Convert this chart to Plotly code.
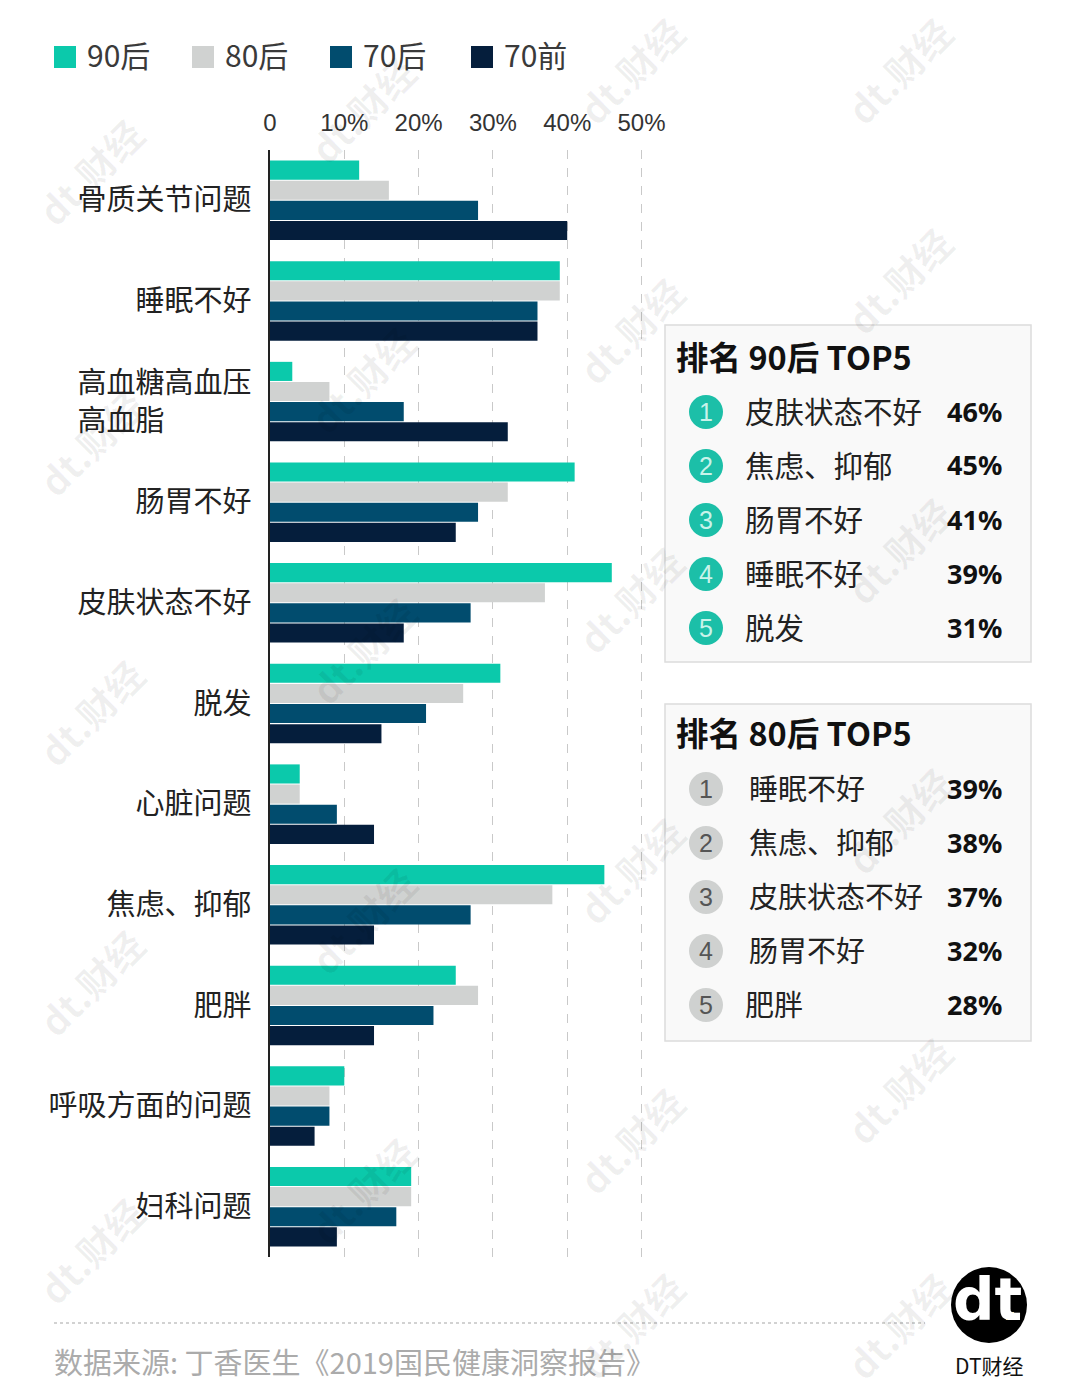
import plotly.graph_objects as go

categories = ["骨质关节问题", "睡眠不好", "高血糖高血压<br>高血脂　　　", "肠胃不好", "皮肤状态不好", "脱发",
              "心脏问题", "焦虑、抑郁", "肥胖", "呼吸方面的问题", "妇科问题"]
v90s = [12, 39, 3, 41, 46, 31, 4, 45, 25, 10, 19]
v80s = [16, 39, 8, 32, 37, 26, 4, 38, 28, 8, 19]
v70s = [28, 36, 18, 28, 27, 21, 9, 27, 22, 8, 17]
v70b = [40, 36, 32, 25, 18, 15, 14, 14, 14, 6, 9]
series_names = ["90后", "80后", "70后", "70前"]
series_colors = ["#0bc9ab", "#d0d2d1", "#014c6e", "#051e3c"]
tick_vals = [0, 10, 20, 30, 40, 50]
tick_text = ["0", "10%", "20%", "30%", "40%", "50%"]

rank90_names = ["皮肤状态不好", "焦虑、抑郁", "肠胃不好", "睡眠不好", "脱发"]
rank90_vals = ["46%", "45%", "41%", "39%", "31%"]
rank80_names = ["睡眠不好", "焦虑、抑郁", "皮肤状态不好", "肠胃不好", "肥胖"]
rank80_vals = ["39%", "38%", "37%", "32%", "28%"]

W, H = 1080, 1399
CJK = "Noto Sans CJK SC"
LAT = "Liberation Sans"
px = lambda x: x / W
py = lambda y: 1 - y / H

fig = go.Figure()
for name, vals, col in zip(series_names, [v90s, v80s, v70s, v70b], series_colors):
    fig.add_trace(go.Bar(y=categories, x=vals, name=name, orientation="h",
                         marker=dict(color=col, line_width=0), showlegend=False))

shapes, ann = [], []


def text(x, y, s, size, color="#222", anchor="left", family=CJK, angle=0):
    ann.append(dict(x=px(x), y=py(y), xref="paper", yref="paper", text=s, showarrow=False,
                    xanchor=anchor, yanchor="middle", textangle=angle, borderpad=0, borderwidth=0,
                    font=dict(size=size, color=color, family=family)))


def rect(x0, y0, x1, y1, fill, line=None, kind="rect"):
    shapes.append(dict(type=kind, xref="paper", yref="paper", x0=px(x0), x1=px(x1), y0=py(y0), y1=py(y1),
                       fillcolor=fill, line=dict(color=line or fill, width=1.5 if line else 0),
                       layer="below"))


# legend
for name, col, sx, tx in zip(series_names, series_colors, [54, 192, 330, 471], [87, 225, 363, 504]):
    rect(sx, 46, sx + 22, 68, col)
    text(tx, 54, name, 30, "#3a3a3a")

# ranking panels
panels = [(325, 662, 355, "排名 90后 TOP5", rank90_names, rank90_vals, "#1cbfa8", "#c9f3ea", [745] * 5, 412, 29.5),
          (704, 1041, 731, "排名 80后 TOP5", rank80_names, rank80_vals, "#cfd1d0", "#555555",
           [749, 749, 749, 749, 745], 789, 29)]
for top, bot, ty, title, names, vals, cfill, ctext, nx, y0, nsize in panels:
    rect(665, top, 1031, bot, "#f9f9f9", "#dcdcdc")
    text(676, ty, "<b>" + title + "</b>", 32.5, "#111")
    for i, (n, v) in enumerate(zip(names, vals)):
        y = y0 + 54 * i
        rect(689, y - 17, 723, y + 17, cfill, kind="circle")
        text(706, y, str(i + 1), 25, ctext, "center", LAT)
        text(nx[i], y - 2, n, nsize, "#222")
        text(1002, y - 1, "<b>" + v + "</b>", 27, "#111", "right", "Noto Sans")

# footer
shapes.append(dict(type="line", xref="paper", yref="paper", x0=px(54), x1=px(925), y0=py(1323), y1=py(1323),
                   line=dict(color="#c4c4c4", width=1.5, dash="dot")))
text(54, 1361, "数据来源: 丁香医生《2019国民健康洞察报告》", 29, "#ababab")

# logo
rect(951, 1267, 1027, 1343, "#000000", kind="circle")
text(987, 1300, "<b>dt</b>", 58, "#ffffff", "center", "DejaVu Sans")
shapes.append(dict(type="rect", xref="paper", yref="paper", x0=px(1006), x1=px(1014), y0=py(1312), y1=py(1320),
                   fillcolor="#e8c65a", line_width=0, layer="above"))
text(989, 1365, "DT财经", 21, "#111", "center")

# watermark
wm_cols = {90: [172, 442, 712, 982, 1250], 362: [110, 380, 650, 920, 1190],
           630: [70, 330, 600, 870, 1140, 1325], 898: [70, 280, 550, 820, 1090, 1325]}
for wx, ys in wm_cols.items():
    for wy in ys:
        text(wx, wy, "<b>dt.财经</b>", 38, "rgba(0,0,0,0.06)", "center", CJK, -45)

fig.update_layout(
    template="none",
    width=W, height=H, autosize=False, margin=dict(l=0, r=0, t=0, b=0, pad=0),
    paper_bgcolor="#ffffff", plot_bgcolor="rgba(0,0,0,0)",
    barmode="group", bargap=0.2, bargroupgap=0.05,
    shapes=shapes, annotations=ann, showlegend=False,
    font=dict(family=CJK),
    xaxis=dict(domain=[px(270), px(643)], range=[0, 50.2], side="top", tickvals=tick_vals, ticktext=tick_text,
               tickfont=dict(size=24, color="#333", family=LAT), ticklabelstandoff=13, automargin=False,
               showgrid=True, gridcolor="#c9c9c9", griddash="dash", gridwidth=1, zeroline=False, showline=False,
               ticks=""),
    yaxis=dict(domain=[py(1257), py(150)], autorange="reversed", type="category", automargin=False,
               tickfont=dict(size=29, color="#222", family=CJK), ticklabelstandoff=11, ticks="",
               showgrid=False, zeroline=False, showline=True, linecolor="#222", linewidth=1.5),
)

fig.write_html("out.html", config=dict(displayModeBar=False),
               post_script="document.body.style.margin='0';document.body.style.background='#fff';")
